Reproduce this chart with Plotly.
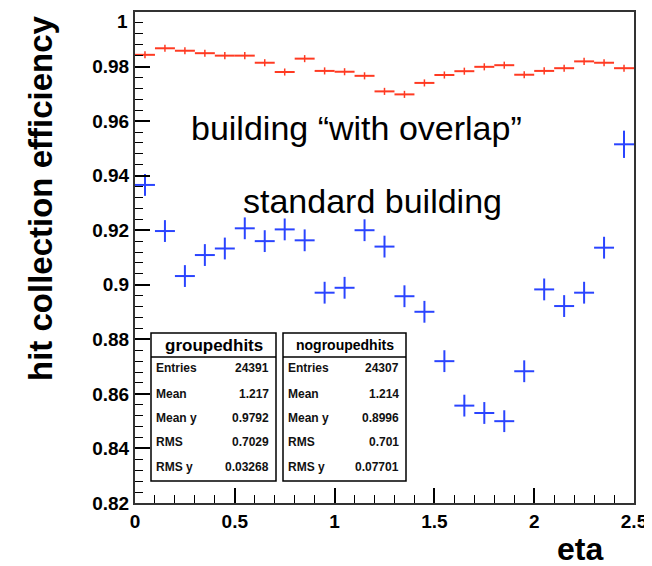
import plotly.graph_objects as go

# ---- data ----
eta_centers = [0.05, 0.15, 0.25, 0.35, 0.45, 0.55, 0.65, 0.75, 0.85, 0.95,
               1.05, 1.15, 1.25, 1.35, 1.45, 1.55, 1.65, 1.75, 1.85, 1.95,
               2.05, 2.15, 2.25, 2.35, 2.45]
eta_halfwidth = [0.05] * 25

eff_overlap = [0.9843, 0.9867, 0.9858, 0.9849, 0.9840, 0.9840, 0.9814, 0.9780, 0.9829, 0.9784,
               0.9781, 0.9766, 0.9709, 0.9698, 0.9740, 0.9769, 0.9783, 0.9799, 0.9805, 0.9770,
               0.9784, 0.9794, 0.9819, 0.9814, 0.9794]
err_overlap = [0.0013] * 25

eff_standard = [0.9366, 0.9197, 0.9032, 0.9109, 0.9133, 0.9207, 0.9160, 0.9203, 0.9163, 0.8971,
                0.8989, 0.9200, 0.9140, 0.8958, 0.8901, 0.8720, 0.8557, 0.8530, 0.8500, 0.8683,
                0.8983, 0.8922, 0.8971, 0.9136, 0.9515]
err_standard = [0.0040] * 24 + [0.0050]

stat_labels = ["Entries", "Mean", "Mean y", "RMS", "RMS y"]
stat_grouped = ["24391", "1.217", "0.9792", "0.7029", "0.03268"]
stat_nogrouped = ["24307", "1.214", "0.8996", "0.701", "0.07701"]

y_ticks = [0.82, 0.84, 0.86, 0.88, 0.9, 0.92, 0.94, 0.96, 0.98, 1]
y_ticklabels = ["0.82", "0.84", "0.86", "0.88", "0.9", "0.92", "0.94", "0.96", "0.98", "1"]
x_ticks = [0, 0.5, 1, 1.5, 2, 2.5]
x_ticklabels = ["0", "0.5", "1", "1.5", "2", "2.5"]

RED = "#ff3a22"
BLUE = "#2a44ff"
FONT = "Liberation Sans, Arial, sans-serif"

# ---- geometry (screen pixels; page body has an 8px margin) ----
W, H = 652, 566
OFF = 8
L, R, T, B = 135 - OFF, 634 - OFF, 12 - OFF, 503 - OFF


def px(x):
    return (x - OFF - L) / (R - L)


def py(y):
    return (B - (y - OFF)) / (B - T)


fig = go.Figure()

fig.add_trace(go.Scatter(
    x=eta_centers, y=eff_standard, mode="markers",
    marker=dict(size=0.1, color=BLUE),
    error_x=dict(type="data", array=eta_halfwidth, width=0, thickness=2, color=BLUE),
    error_y=dict(type="data", array=err_standard, width=0, thickness=2, color=BLUE),
    showlegend=False, hoverinfo="skip"))

fig.add_trace(go.Scatter(
    x=eta_centers, y=eff_overlap, mode="markers",
    marker=dict(size=0.1, color=RED),
    error_x=dict(type="data", array=eta_halfwidth, width=0, thickness=2, color=RED),
    error_y=dict(type="data", array=err_overlap, width=0, thickness=1.5, color=RED),
    showlegend=False, hoverinfo="skip"))

shapes = []
annotations = []

# stat boxes
boxes = [
    (151, 276, "groupedhits", stat_grouped, 17),
    (283, 406, "nogroupedhits", stat_nogrouped, 14),
]
row_y = [368, 394, 418, 442, 467]
for (x0, x1, title, vals, tsize) in boxes:
    shapes.append(dict(type="rect", xref="paper", yref="paper",
                       x0=px(x0), x1=px(x1), y0=py(481), y1=py(333),
                       line=dict(color="black", width=1.5), fillcolor="white", layer="above"))
    shapes.append(dict(type="line", xref="paper", yref="paper",
                       x0=px(x0), x1=px(x1), y0=py(357), y1=py(357),
                       line=dict(color="black", width=1.5), layer="above"))
    annotations.append(dict(xref="paper", yref="paper", x=px((x0 + x1) / 2), y=py(345),
                            text="<b>%s</b>" % title, showarrow=False,
                            font=dict(family=FONT, size=tsize, color="black"),
                            xanchor="center", yanchor="middle"))
    for lab, val, yy in zip(stat_labels, vals, row_y):
        annotations.append(dict(xref="paper", yref="paper", x=px(x0 + 3), y=py(yy),
                                text="<b>%s</b>" % lab, showarrow=False,
                                font=dict(family=FONT, size=12, color="#111"),
                                xanchor="left", yanchor="middle"))
        annotations.append(dict(xref="paper", yref="paper", x=px(x1 - 5), y=py(yy),
                                text="<b>%s</b>" % val, showarrow=False,
                                font=dict(family=FONT, size=12, color="#111"),
                                xanchor="right", yanchor="middle"))

# top y tick label placed slightly lower so it stays inside the page
annotations.append(dict(xref="paper", yref="paper", x=px(130), y=py(9),
                        text="<b>%s</b>" % y_ticklabels[-1], showarrow=False,
                        font=dict(family=FONT, size=19, color="black"),
                        xanchor="right", yanchor="top"))

# in-plot labels
annotations.append(dict(xref="paper", yref="paper", x=px(356), y=py(128),
                        text="building \u201cwith overlap\u201d", showarrow=False,
                        font=dict(family=FONT, size=34, color="black"),
                        xanchor="center", yanchor="middle"))
annotations.append(dict(xref="paper", yref="paper", x=px(372), y=py(201),
                        text="standard building", showarrow=False,
                        font=dict(family=FONT, size=34, color="black"),
                        xanchor="center", yanchor="middle"))

# axis titles
annotations.append(dict(xref="paper", yref="paper", x=px(40), y=py(198),
                        text="<b>hit collection efficiency</b>", showarrow=False, textangle=-90,
                        font=dict(family=FONT, size=33, color="black"),
                        xanchor="center", yanchor="middle"))
annotations.append(dict(xref="paper", yref="paper", x=px(580), y=py(549),
                        text="<b>eta</b>", showarrow=False,
                        font=dict(family=FONT, size=32, color="black"),
                        xanchor="center", yanchor="middle"))

fig.update_layout(
    width=W, height=H,
    margin=dict(l=L, r=W - R, t=T, b=H - B, autoexpand=False),
    paper_bgcolor="white", plot_bgcolor="white",
    shapes=shapes, annotations=annotations,
    font=dict(family=FONT, color="black"),
)

fig.update_xaxes(
    range=[0, 2.5], tickvals=x_ticks, ticktext=["<b>%s</b>" % t for t in x_ticklabels],
    ticks="inside", ticklen=15, tickwidth=1.5, tickcolor="black",
    minor=dict(ticks="inside", ticklen=8, dtick=0.1, tick0=0, tickcolor="black", tickwidth=1.2),
    showline=True, linecolor="#333", linewidth=2, mirror=True,
    showgrid=False, zeroline=False, automargin=False, ticklabeloverflow="allow",
    tickfont=dict(family=FONT, size=19, color="black"),
)
fig.update_yaxes(
    range=[0.82, 1.0], tickvals=y_ticks,
    ticktext=["<b>%s</b>" % t for t in y_ticklabels[:-1]] + [""],
    ticks="inside", ticklen=15, tickwidth=1.5, tickcolor="black",
    minor=dict(ticks="inside", ticklen=8, dtick=0.004, tick0=0.82, tickcolor="black", tickwidth=1.2),
    showline=True, linecolor="#333", linewidth=2, mirror=True,
    showgrid=False, zeroline=False, automargin=False, ticklabeloverflow="allow",
    tickfont=dict(family=FONT, size=19, color="black"),
)

fig.write_html("out.html")
